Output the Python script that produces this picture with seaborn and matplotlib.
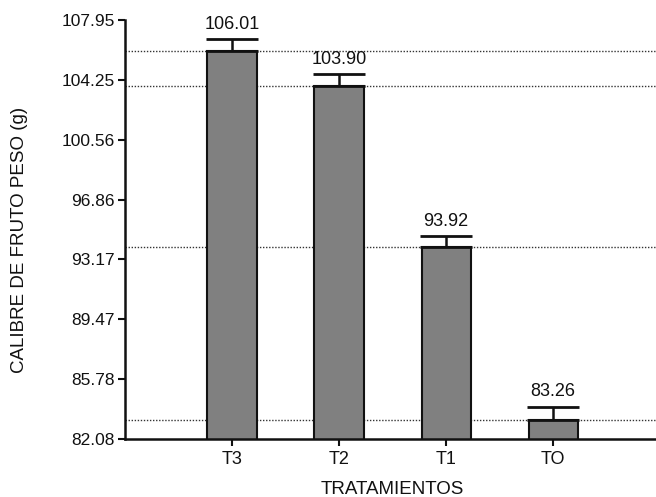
import matplotlib
matplotlib.use("Agg")
import matplotlib.pyplot as plt
import seaborn as sns
import pandas as pd

# Mean fruit weight per treatment and its standard error
tratamientos = ["T3", "T2", "T1", "TO"]
peso_medio = [106.01, 103.90, 93.92, 83.26]
error_est = [0.75, 0.72, 0.68, 0.82]
y_ticks = [82.08, 85.78, 89.47, 93.17, 96.86, 100.56, 104.25, 107.95]

sns.set_theme(style="ticks")
plt.rcParams["font.family"] = ["Liberation Sans", "DejaVu Sans"]

df = pd.DataFrame({"tratamiento": tratamientos, "peso": peso_medio, "se": error_est})

fig = plt.figure(figsize=(6.56, 4.97), dpi=100)
ax = fig.add_axes([125 / 656, 1 - 439 / 497, (656 - 125) / 656, (439 - 20) / 497])

# Reference lines at each mean
for v in peso_medio:
    ax.axhline(v, color="#333333", linestyle=(0, (1, 1.2)), linewidth=1.0, zorder=0)

sns.barplot(data=df, x="tratamiento", y="peso", order=tratamientos,
            color="#808080", saturation=1, width=0.46, errorbar=None,
            edgecolor="#111111", linewidth=1.5, ax=ax, zorder=2)

xs = range(len(tratamientos))
ax.errorbar(list(xs), peso_medio, yerr=[[0] * len(error_est), error_est],
            fmt="none", ecolor="#111111", elinewidth=1.8, capsize=18.5,
            capthick=2.0, zorder=3)

for x, v, e in zip(xs, peso_medio, error_est):
    ax.annotate(f"{v:.2f}", (x, v + e), xytext=(0, 4.5), textcoords="offset points",
                ha="center", va="bottom", fontsize=13, color="#111111")

ax.set_ylim(y_ticks[0], y_ticks[-1])
ax.set_yticks(y_ticks)
ax.set_yticklabels([f"{t:.2f}" for t in y_ticks])
ax.set_xlim(-1.0, 3.96)

ax.set_xlabel("TRATAMIENTOS", fontsize=13.5, color="#111111")
ax.set_ylabel("CALIBRE DE FRUTO PESO (g)", fontsize=13.5, color="#111111")
ax.xaxis.set_label_coords(0.503, -0.10)
ax.yaxis.set_label_coords(-0.183, 0.475)
ax.tick_params(axis="both", labelsize=12.5, colors="#111111", width=1.5, length=5,
               direction="out", pad=2.5)
ax.tick_params(axis="x", labelsize=13, pad=4)

for s in ["top", "right"]:
    ax.spines[s].set_visible(False)
for s in ["left", "bottom"]:
    ax.spines[s].set_linewidth(1.8)
    ax.spines[s].set_color("#111111")

fig.savefig("out.png", dpi=100)
